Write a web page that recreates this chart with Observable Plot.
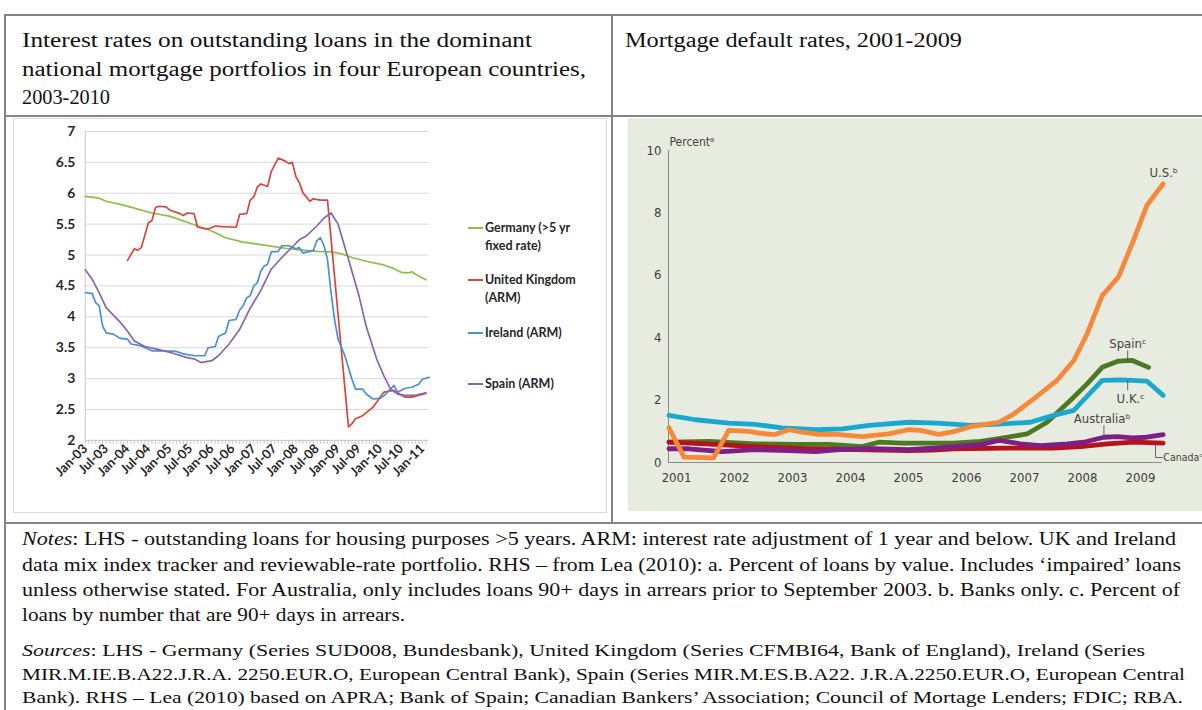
<!DOCTYPE html>
<html><head><meta charset="utf-8">
<script src="https://cdn.jsdelivr.net/npm/d3@7"></script>
<script src="https://cdn.jsdelivr.net/npm/@observablehq/plot@0.6"></script>
<style>
html,body{margin:0;padding:0;background:#fff;width:1202px;height:710px;overflow:hidden;position:relative;font-family:"Liberation Serif",serif;color:#111;}
.hl{position:absolute;height:2px;background:#858585;}
.vl{position:absolute;width:2px;background:#858585;}
.line{position:absolute;white-space:nowrap;transform-origin:0 50%;}
#lhsBox{position:absolute;left:13px;top:118px;width:594px;height:395px;border:1px solid #d9d9d9;box-sizing:border-box;background:#fff;overflow:visible;}
#rhsBox{position:absolute;left:628px;top:118px;width:574px;height:393px;background:#e8ebdf;overflow:hidden;}
#lhsBox svg,#rhsBox svg{position:absolute;left:0;top:0;overflow:visible;}
#lhsBox svg g[aria-label="y-axis tick label"]{font-size:14px;font-weight:bold;}
#lhsBox svg g[aria-label="x-axis tick label"]{font-size:13px;font-weight:bold;}
#rhsBox svg g[aria-label$="tick label"]{font-size:13px;}
.leg{position:absolute;font-family:Lato,sans-serif;font-weight:bold;font-size:12.5px;color:#262626;line-height:18px;}
.sw{position:absolute;height:2px;width:15px;}
</style></head><body>

<div class="hl" style="left:4px;top:14px;width:1198px"></div>
<div class="vl" style="left:4px;top:14px;height:696px"></div>
<div class="vl" style="left:611px;top:14px;height:510px"></div>
<div class="hl" style="left:4px;top:115px;width:1198px"></div>
<div class="hl" style="left:4px;top:522px;width:1198px"></div>

<div id="lhsBox"></div>
<div id="rhsBox"></div>
<div id="texts"></div>

<script>
// ---------- LHS data: interest rates (month, %) ----------
const lhsSeriesNames = ["Germany (>5 yr fixed rate)", "United Kingdom (ARM)", "Ireland (ARM)", "Spain (ARM)"];
const lhsColors = ["#8dbf45", "#d9453c", "#4a8fd8", "#8766b0"];
const germany = [["2003-01",5.95],["2003-05",5.92],["2003-07",5.87],["2003-11",5.82],["2004-03",5.76],["2004-08",5.68],["2005-01",5.63],["2005-05",5.55],["2005-09",5.47],["2006-01",5.39],["2006-05",5.28],["2006-10",5.21],["2007-04",5.16],["2007-10",5.11],["2008-03",5.08],["2008-07",5.06],["2008-11",5.05],["2009-02",5.02],["2009-05",4.96],["2009-09",4.90],["2010-02",4.84],["2010-05",4.78],["2010-07",4.72],["2010-09",4.71],["2010-10",4.73],["2010-12",4.66],["2011-02",4.60]];
const unitedKingdom = [["2004-01",4.91],["2004-03",5.10],["2004-04",5.08],["2004-05",5.12],["2004-07",5.52],["2004-08",5.56],["2004-09",5.77],["2004-10",5.79],["2004-12",5.78],["2005-01",5.73],["2005-04",5.67],["2005-05",5.64],["2005-06",5.68],["2005-08",5.67],["2005-09",5.45],["2005-12",5.42],["2006-02",5.47],["2006-04",5.46],["2006-08",5.45],["2006-09",5.66],["2006-11",5.67],["2006-12",5.89],["2007-01",5.94],["2007-02",6.10],["2007-03",6.15],["2007-05",6.11],["2007-06",6.35],["2007-08",6.57],["2007-10",6.52],["2007-11",6.48],["2007-12",6.50],["2008-01",6.27],["2008-02",6.17],["2008-03",6.01],["2008-05",5.87],["2008-06",5.91],["2008-08",5.89],["2008-10",5.89],["2009-04",2.22],["2009-05",2.27],["2009-06",2.35],["2009-08",2.40],["2009-11",2.54],["2010-01",2.70],["2010-02",2.78],["2010-05",2.81],["2010-08",2.70],["2010-10",2.70],["2011-02",2.76]];
const ireland = [["2003-01",4.39],["2003-03",4.38],["2003-04",4.23],["2003-05",4.18],["2003-06",3.85],["2003-07",3.74],["2003-09",3.72],["2003-11",3.65],["2004-01",3.64],["2004-02",3.56],["2004-05",3.53],["2004-08",3.45],["2004-11",3.45],["2005-03",3.44],["2005-05",3.40],["2005-08",3.37],["2005-11",3.37],["2005-12",3.50],["2006-02",3.52],["2006-03",3.68],["2006-05",3.74],["2006-06",3.94],["2006-08",3.96],["2006-09",4.11],["2006-10",4.18],["2006-11",4.31],["2006-12",4.34],["2007-01",4.50],["2007-02",4.55],["2007-03",4.73],["2007-04",4.82],["2007-05",4.85],["2007-06",5.05],["2007-08",5.06],["2007-09",5.15],["2007-11",5.15],["2008-01",5.10],["2008-02",5.12],["2008-03",5.03],["2008-05",5.06],["2008-06",5.08],["2008-07",5.23],["2008-08",5.28],["2008-09",5.15],["2008-10",4.93],["2008-11",4.39],["2008-12",3.96],["2009-01",3.64],["2009-03",3.37],["2009-05",2.99],["2009-06",2.83],["2009-08",2.83],["2009-09",2.75],["2009-11",2.67],["2010-01",2.68],["2010-02",2.72],["2010-04",2.83],["2010-05",2.89],["2010-06",2.78],["2010-08",2.84],["2010-10",2.86],["2010-12",2.91],["2011-01",2.99],["2011-03",3.02]];
const spain = [["2003-01",4.76],["2003-03",4.61],["2003-05",4.39],["2003-07",4.15],["2003-11",3.91],["2004-01",3.77],["2004-03",3.61],["2004-06",3.52],["2004-10",3.47],["2005-02",3.41],["2005-06",3.34],["2005-08",3.32],["2005-10",3.26],["2006-01",3.29],["2006-03",3.37],["2006-06",3.56],["2006-09",3.80],["2006-12",4.14],["2007-03",4.42],["2007-06",4.77],["2007-09",4.96],["2007-12",5.13],["2008-02",5.25],["2008-04",5.31],["2008-07",5.47],["2008-09",5.60],["2008-11",5.68],["2009-01",5.50],["2009-04",4.93],["2009-07",4.34],["2009-09",3.85],["2009-12",3.32],["2010-02",3.05],["2010-04",2.83],["2010-06",2.75],["2010-08",2.73],["2010-11",2.73],["2011-02",2.77]];
const lhsYTicks = [2,2.5,3,3.5,4,4.5,5,5.5,6,6.5,7];
const lhsXLabels = ["2003-01","2003-07","2004-01","2004-07","2005-01","2005-07","2006-01","2006-07","2007-01","2007-07","2008-01","2008-07","2009-01","2009-07","2010-01","2010-07","2011-01"];

// ---------- RHS data: mortgage default rates (year, %) ----------
const rhsSeriesNames = ["Spain", "Canada", "Australia", "U.K.", "U.S."];
const rhsColors = ["#4b7a22", "#b5121b", "#7e1f86", "#1ba8cf", "#f5883a"];
const rhsSpain = [[2000.87,0.65],[2001.56,0.68],[2002.36,0.60],[2003.05,0.58],[2003.63,0.58],[2004.2,0.51],[2004.49,0.65],[2004.89,0.62],[2005.41,0.62],[2005.78,0.62],[2006.24,0.68],[2006.64,0.79],[2007.05,0.92],[2007.39,1.29],[2007.79,1.99],[2008.08,2.52],[2008.34,3.05],[2008.62,3.25],[2008.86,3.27],[2009.14,3.05]];
const rhsCanada = [[2000.87,0.65],[2001.5,0.60],[2002.36,0.51],[2003.22,0.44],[2004.09,0.41],[2005.0,0.38],[2005.41,0.40],[2005.78,0.44],[2006.64,0.46],[2007.5,0.46],[2007.97,0.51],[2008.43,0.60],[2008.88,0.65],[2009.39,0.62]];
const rhsAustralia = [[2000.87,0.44],[2001.21,0.44],[2001.79,0.35],[2002.36,0.41],[2002.94,0.38],[2003.4,0.35],[2003.86,0.42],[2004.37,0.44],[2005.0,0.41],[2005.41,0.46],[2005.67,0.49],[2006.24,0.57],[2006.56,0.71],[2006.93,0.60],[2007.28,0.54],[2007.74,0.60],[2008.02,0.65],[2008.37,0.81],[2008.6,0.83],[2008.86,0.79],[2009.11,0.81],[2009.39,0.89]];
const rhsUK = [[2000.87,1.51],[2001.33,1.37],[2001.9,1.26],[2002.36,1.22],[2002.82,1.11],[2003.4,1.05],[2003.86,1.08],[2004.32,1.19],[2005.0,1.29],[2005.5,1.26],[2006.07,1.19],[2006.64,1.24],[2007.1,1.29],[2007.5,1.51],[2007.85,1.67],[2008.34,2.63],[2008.66,2.65],[2009.11,2.61],[2009.39,2.15]];
const rhsUS = [[2000.87,1.11],[2001.13,0.17],[2001.64,0.15],[2001.9,1.03],[2002.25,1.0],[2002.42,0.94],[2002.68,0.89],[2002.94,1.05],[2003.17,0.97],[2003.45,0.90],[2003.77,0.90],[2004.2,0.83],[2004.66,0.92],[2005.0,1.05],[2005.21,1.03],[2005.52,0.90],[2005.78,0.99],[2006.07,1.15],[2006.56,1.29],[2006.82,1.56],[2007.16,2.04],[2007.56,2.63],[2007.85,3.27],[2008.08,4.12],[2008.34,5.35],[2008.62,5.94],[2008.88,7.12],[2009.11,8.24],[2009.39,8.93]];
const rhsYTicks = [0,2,4,6,8,10];
const rhsXTicks = [2001,2002,2003,2004,2005,2006,2007,2008,2009];
const rhsLabelText = ["U.S.ᵇ", "Spainᶜ", "U.K.ᶜ", "Australiaᵇ"];
const rhsLabelX = [2009.40, 2008.78, 2008.83, 2008.34];
const rhsLabelY = [9.29, 3.81, 2.05, 1.41];
const canadaLabel = {text: "Canadaᶜ", x: 2009.395, y: 0.16};

// ---------- texts ----------
const headerLeft = ["Interest rates on outstanding loans in the dominant", "national mortgage portfolios in four European countries,", "2003-2010"];
const headerRight = ["Mortgage default rates, 2001-2009"];
const notesLines = [
  "<i>Notes</i>: LHS - outstanding loans for housing purposes >5 years. ARM: interest rate adjustment of 1 year and below. UK and Ireland",
  "data mix index tracker and reviewable-rate portfolio. RHS – from Lea (2010): a. Percent of loans by value. Includes ‘impaired’ loans",
  "unless otherwise stated. For Australia, only includes loans 90+ days in arrears prior to September 2003. b. Banks only. c. Percent of",
  "loans by number that are 90+ days in arrears."
];
const sourcesLines = [
  "<i>Sources</i>: LHS - Germany (Series SUD008, Bundesbank), United Kingdom (Series CFMBI64, Bank of England), Ireland (Series",
  "MIR.M.IE.B.A22.J.R.A. 2250.EUR.O, European Central Bank), Spain (Series MIR.M.ES.B.A22. J.R.A.2250.EUR.O, European Central",
  "Bank). RHS – Lea (2010) based on APRA; Bank of Spain; Canadian Bankers’ Association; Council of Mortage Lenders; FDIC; RBA."
];

// ---------- text layout ----------
const textBox = document.getElementById("texts");
function addLine(html, x, y, fs, targetW) {
  const d = document.createElement("div");
  d.className = "line";
  d.innerHTML = html;
  d.style.left = x + "px";
  d.style.top = (y - fs * 0.6) + "px";
  d.style.fontSize = fs + "px";
  d.style.lineHeight = (fs * 1.2) + "px";
  textBox.appendChild(d);
  if (targetW) {
    const w = d.getBoundingClientRect().width;
    if (w > 0) d.style.transform = `scaleX(${targetW / w})`;
  }
}
const hlW = [510, 564, 88];
const hlY = [40, 69, 97];
headerLeft.forEach((t, i) => addLine(t, 22, hlY[i], 20, hlW[i]));
addLine(headerRight[0], 625, 40, 20, 337);
const nW = [1154, 1159, 1158, 383];
const nY = [540, 566, 591, 616];
notesLines.forEach((t, i) => addLine(t, 22, nY[i], 18, nW[i]));
const sW = [1123, 1163, 1161];
const sY = [651, 675, 698];
sourcesLines.forEach((t, i) => addLine(t, 22, sY[i], 16.5, sW[i]));

// ---------- LHS chart ----------
const toDate = s => new Date(s + "-01T00:00:00Z");
const lhsRows = [];
[germany, unitedKingdom, ireland, spain].forEach((arr, i) =>
  arr.forEach(([d, v]) => lhsRows.push({date: toDate(d), value: v, series: lhsSeriesNames[i]})));
const xStart = toDate("2003-01"), xEnd = toDate("2011-03");
const lhs = Plot.plot({
  width: 594, height: 395,
  marginLeft: 71, marginRight: 178, marginTop: 12, marginBottom: 73,
  x: {type: "utc", domain: [xStart, xEnd]},
  y: {domain: [2, 7]},
  color: {domain: lhsSeriesNames, range: lhsColors},
  style: {fontFamily: "Lato, sans-serif", fontWeight: "bold", fontSize: "13px", color: "#262626", background: "transparent"},
  marks: [
    Plot.gridY(lhsYTicks.filter(d => d > 2), {stroke: "#d9d9d9", strokeOpacity: 1}),
    Plot.ruleX([xStart], {stroke: "#c8c8c8"}),
    Plot.ruleY([2], {stroke: "#c8c8c8"}),
    Plot.axisY(lhsYTicks, {tickSize: 0, tickPadding: 10, fontSize: 14, fontWeight: "bold", tickFormat: d => String(d), label: null}),
    Plot.axisX(d3.utcMonths(xStart, xEnd), {tickSize: 4, tickFormat: () => "", stroke: "#c8c8c8", label: null}),
    Plot.axisX(lhsXLabels.map(toDate), {tickSize: 0, tickPadding: 6, tickRotate: -45, fontSize: 13, fontWeight: "bold", tickFormat: d3.utcFormat("%b-%y"), label: null}),
    Plot.line(lhsRows, {x: "date", y: "value", z: "series", stroke: "series", strokeWidth: 1.7, strokeLinejoin: "round"})
  ]
});
document.getElementById("lhsBox").appendChild(lhs);

// legend (HTML)
const legBox = document.getElementById("lhsBox");
const legItems = [
  {lines: ["Germany (>5 yr", "fixed rate)"], y: 227},
  {lines: ["United Kingdom", "(ARM)"], y: 279},
  {lines: ["Ireland (ARM)"], y: 332},
  {lines: ["Spain (ARM)"], y: 383}
];
legItems.forEach((it, i) => {
  const sw = document.createElement("div");
  sw.className = "sw";
  sw.style.left = (467 - 13) + "px";
  sw.style.top = (it.y - 118 - 1) + "px";
  sw.style.background = lhsColors[i];
  legBox.appendChild(sw);
  const t = document.createElement("div");
  t.className = "leg";
  t.style.left = (484 - 13) + "px";
  t.style.top = (it.y - 118 - 9) + "px";
  t.innerHTML = it.lines.join("<br>");
  legBox.appendChild(t);
});

// ---------- RHS chart ----------
const rhsRows = [];
[rhsSpain, rhsCanada, rhsAustralia, rhsUK, rhsUS].forEach((arr, i) =>
  arr.forEach(([t, v]) => rhsRows.push({t, value: v, series: rhsSeriesNames[i]})));
const rhsLabels = rhsLabelText.map((text, i) => ({text, x: rhsLabelX[i], y: rhsLabelY[i]}));
const leaders = [
  {x1: 2008.78, y1: 3.59, x2: 2008.78, y2: 3.22},
  {x1: 2008.78, y1: 2.64, x2: 2008.78, y2: 2.32},
  {x1: 2008.37, y1: 1.19, x2: 2008.37, y2: 0.82},
  {x1: 2009.26, y1: 0.60, x2: 2009.26, y2: 0.16},
  {x1: 2009.26, y1: 0.16, x2: 2009.385, y2: 0.16}
];
const rx0 = 2000.862, rx1 = 2009.38;
const rhsFont = '"Liberation Sans Narrow", "DejaVu Sans Condensed", "Liberation Sans", sans-serif';
const rhs = Plot.plot({
  width: 574, height: 393,
  marginLeft: 40, marginRight: 40, marginTop: 32, marginBottom: 49,
  x: {domain: [rx0, rx1]},
  y: {domain: [0, 10]},
  color: {domain: rhsSeriesNames, range: rhsColors},
  style: {fontFamily: rhsFont, fontSize: "12.5px", color: "#3c3c3c", background: "transparent"},
  marks: [
    Plot.ruleX([rx0], {y1: 0, y2: 10, stroke: "#8a8a8a", strokeWidth: 1}),
    Plot.ruleY([0], {stroke: "#8a8a8a", strokeWidth: 1}),
    Plot.axisY(rhsYTicks, {tickSize: 0, tickPadding: 7, fontSize: 12.5, label: null}),
    Plot.axisX(rhsXTicks, {tickSize: 0, tickPadding: 10, fontSize: 12.5, tickFormat: d => String(d), label: null}),
    Plot.text(["Percentᵃ"], {frameAnchor: "top-left", textAnchor: "start", dx: 1, dy: -13, fontSize: 12, fill: "#444"}),
    Plot.line(rhsRows, {x: "t", y: "value", z: "series", stroke: "series", strokeWidth: 4.8, strokeLinejoin: "round"}),
    Plot.link(leaders, {x1: "x1", y1: "y1", x2: "x2", y2: "y2", stroke: "#555", strokeWidth: 0.9}),
    Plot.text(rhsLabels, {x: "x", y: "y", text: "text", textAnchor: "middle", fontSize: 13, fill: "#444"}),
    Plot.text([canadaLabel], {x: "x", y: "y", text: "text", textAnchor: "start", fontSize: 10.5, fill: "#444"})
  ]
});
document.getElementById("rhsBox").appendChild(rhs);
</script>
</body></html>
